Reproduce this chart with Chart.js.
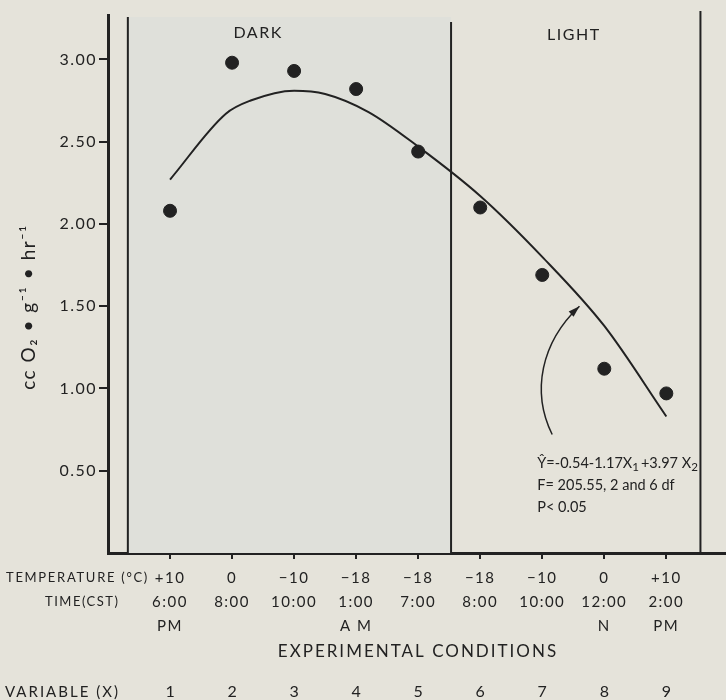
<!DOCTYPE html>
<html>
<head>
<meta charset="utf-8">
<script src="https://cdn.jsdelivr.net/npm/chart.js@4/dist/chart.umd.min.js"></script>
<style>
  html, body { margin: 0; padding: 0; background: #e5e3da; overflow: hidden; }
  #wrap { width: 726px; height: 700px; overflow: hidden; }
</style>
</head>
<body>
<div id="wrap"><canvas id="chart" width="734" height="700"></canvas></div>
<script>
// measured O2 consumption per condition
const variable = [1, 2, 3, 4, 5, 6, 7, 8, 9];
const oxygen = [2.08, 2.98, 2.93, 2.82, 2.44, 2.10, 1.69, 1.12, 0.97];

// fitted regression line
const fitX = [1, 1.9, 2.3, 3, 3.5, 4.2, 5, 6, 7, 8, 9];
const fitY = [2.27, 2.67, 2.75, 2.81, 2.79, 2.68, 2.47, 2.17, 1.80, 1.38, 0.83];

// axis rows
const temps = ['+10', '0', '\u221210', '\u221218', '\u221218', '\u221218', '\u221210', '0', '+10'];
const times = ['6:00', '8:00', '10:00', '1:00', '7:00', '8:00', '10:00', '12:00', '2:00'];
const periods = ['PM', '', '', 'A M', '', '', '', 'N', 'PM'];
const yTicks = [0.5, 1.0, 1.5, 2.0, 2.5, 3.0];

// dark / light phases (in x units)
const darkStart = 0.32;
const darkEnd = 5.53;
const lightEnd = 9.55;

const ink = '#222';
const font = 'Lato, "Open Sans", sans-serif';

function txt(c, s, x, y, size, spacing) {
    c.font = size + 'px ' + font;
    c.letterSpacing = spacing + 'px';
    c.fillText(s, x, y);
}

// text with lowered subscript pieces: [string, isSub]
function richText(c, parts, x, y, size) {
    c.letterSpacing = '0px';
    parts.forEach(([s, sub]) => {
        c.font = (sub ? size * 0.8 : size) + 'px ' + font;
        c.fillText(s, x, sub ? y + size * 0.3 : y);
        x += c.measureText(s).width + (sub ? 2 : 0);
    });
}

const decor = {
    id: 'decor',
    beforeDraw(chart) {
        const c = chart.ctx;
        c.save();
        c.fillStyle = '#e5e3da';
        c.fillRect(0, 0, chart.width, chart.height);
        c.restore();
        // wide tracking for the axis labels drawn by Chart.js
        c.letterSpacing = '1.5px';
    },
    beforeDatasetsDraw(chart) {
        const c = chart.ctx, xs = chart.scales.x, a = chart.chartArea;
        c.save();
        c.fillStyle = '#dfe0da';
        c.fillRect(xs.getPixelForValue(darkStart), a.top + 2, xs.getPixelForValue(darkEnd) - xs.getPixelForValue(darkStart), a.bottom - a.top - 2);
        c.strokeStyle = ink;
        c.lineWidth = 2;
        [[darkStart, a.top + 2], [darkEnd, a.top + 7], [lightEnd, a.top - 4]].forEach(([v, t]) => {
            const px = xs.getPixelForValue(v);
            c.beginPath();
            c.moveTo(px, t);
            c.lineTo(px, a.bottom);
            c.stroke();
        });
        c.fillStyle = ink;
        c.textAlign = 'center';
        c.textBaseline = 'middle';
        txt(c, 'DARK', xs.getPixelForValue(2.42), a.top + 18, 16, 1.5);
        txt(c, 'LIGHT', xs.getPixelForValue(7.51), a.top + 20, 16, 1.5);
        c.restore();
    },
    afterDatasetsDraw(chart) {
        const c = chart.ctx, xs = chart.scales.x, ys = chart.scales.y;
        const P = (x, y) => [xs.getPixelForValue(x), ys.getPixelForValue(y)];
        c.save();
        // arrow from the equation to the line
        const s = P(7.16, 0.72), c1 = P(6.82, 0.98), c2 = P(6.98, 1.28), e = P(7.6, 1.5);
        c.strokeStyle = ink;
        c.lineWidth = 1.5;
        c.beginPath();
        c.moveTo(s[0], s[1]);
        c.bezierCurveTo(c1[0], c1[1], c2[0], c2[1], e[0], e[1]);
        c.stroke();
        const ang = Math.atan2(e[1] - c2[1], e[0] - c2[0]);
        c.fillStyle = ink;
        c.beginPath();
        c.moveTo(e[0], e[1]);
        c.lineTo(e[0] - 12 * Math.cos(ang - 0.3), e[1] - 12 * Math.sin(ang - 0.3));
        c.lineTo(e[0] - 12 * Math.cos(ang + 0.3), e[1] - 12 * Math.sin(ang + 0.3));
        c.closePath();
        c.fill();
        // equation text
        const t = P(6.92, 0.545);
        c.textAlign = 'left';
        c.textBaseline = 'middle';
        richText(c, [['Y\u0302=-0.54-1.17X', false], ['1', true], ['+3.97 X', false], ['2', true]], t[0], t[1], 14.5);
        txt(c, 'F= 205.55, 2 and 6 df', t[0], t[1] + 22, 14.5, 0);
        txt(c, 'P< 0.05', t[0], t[1] + 44, 14.5, 0);
        c.restore();
    },
    afterDraw(chart) {
        const c = chart.ctx, xs = chart.scales.x;
        c.save();
        c.fillStyle = ink;
        c.textBaseline = 'middle';
        c.textAlign = 'left';
        txt(c, 'TEMPERATURE (\u00b0C)', 6, 578, 13, 1.7);
        txt(c, 'TIME(CST)', 45, 602, 13, 1.5);
        txt(c, 'VARIABLE (X)', 5, 692, 15, 2);
        c.textAlign = 'center';
        txt(c, 'EXPERIMENTAL CONDITIONS', 418, 652, 17, 2);
        variable.forEach(v => txt(c, String(v), xs.getPixelForValue(v), 692, 16, 0));
        // y axis title
        c.translate(29, 307);
        c.rotate(-Math.PI / 2);
        txt(c, 'cc O\u2082 \u2022 g\u207b\u00b9 \u2022 hr\u207b\u00b9', 0, 0, 19, 1.5);
        c.restore();
    }
};

new Chart(document.getElementById('chart'), {
    type: 'scatter',
    data: {
        datasets: [{
            label: 'Observed',
            data: variable.map((x, i) => ({x: x, y: oxygen[i]})),
            backgroundColor: ink,
            borderColor: ink,
            pointRadius: 6.5,
            pointHoverRadius: 6.5
        }, {
            label: 'Fitted',
            type: 'line',
            data: fitX.map((x, i) => ({x: x, y: fitY[i]})),
            borderColor: ink,
            borderWidth: 2,
            pointRadius: 0,
            fill: false,
            cubicInterpolationMode: 'monotone'
        }]
    },
    options: {
        responsive: false,
        animation: false,
        layout: {padding: {top: 15, right: 0, left: 0, bottom: 0}},
        plugins: {legend: {display: false}, tooltip: {enabled: false}},
        scales: {
            x: {
                type: 'linear',
                min: 0,
                max: 9.97,
                afterBuildTicks: s => { s.ticks = variable.map(v => ({value: v})); },
                afterFit: s => { s.height = 147; },
                grid: {drawOnChartArea: false, drawTicks: true, tickLength: 6, color: ink, lineWidth: 2},
                border: {display: true, color: ink, width: 3},
                ticks: {
                    color: ink,
                    padding: 7,
                    maxRotation: 0,
                    font: {family: font, size: 15, lineHeight: 1.6},
                    callback: (v, i) => [temps[i], times[i], periods[i]]
                }
            },
            y: {
                min: 0,
                max: 3.27,
                afterBuildTicks: s => { s.ticks = yTicks.map(v => ({value: v})); },
                afterFit: s => { s.width = 108; },
                grid: {drawOnChartArea: false, drawTicks: true, tickLength: 9, color: ink, lineWidth: 2},
                border: {display: true, color: ink, width: 3},
                ticks: {
                    color: ink,
                    padding: 2,
                    font: {family: font, size: 16},
                    callback: v => v.toFixed(2)
                }
            }
        }
    },
    plugins: [decor]
});
</script>
</body>
</html>
